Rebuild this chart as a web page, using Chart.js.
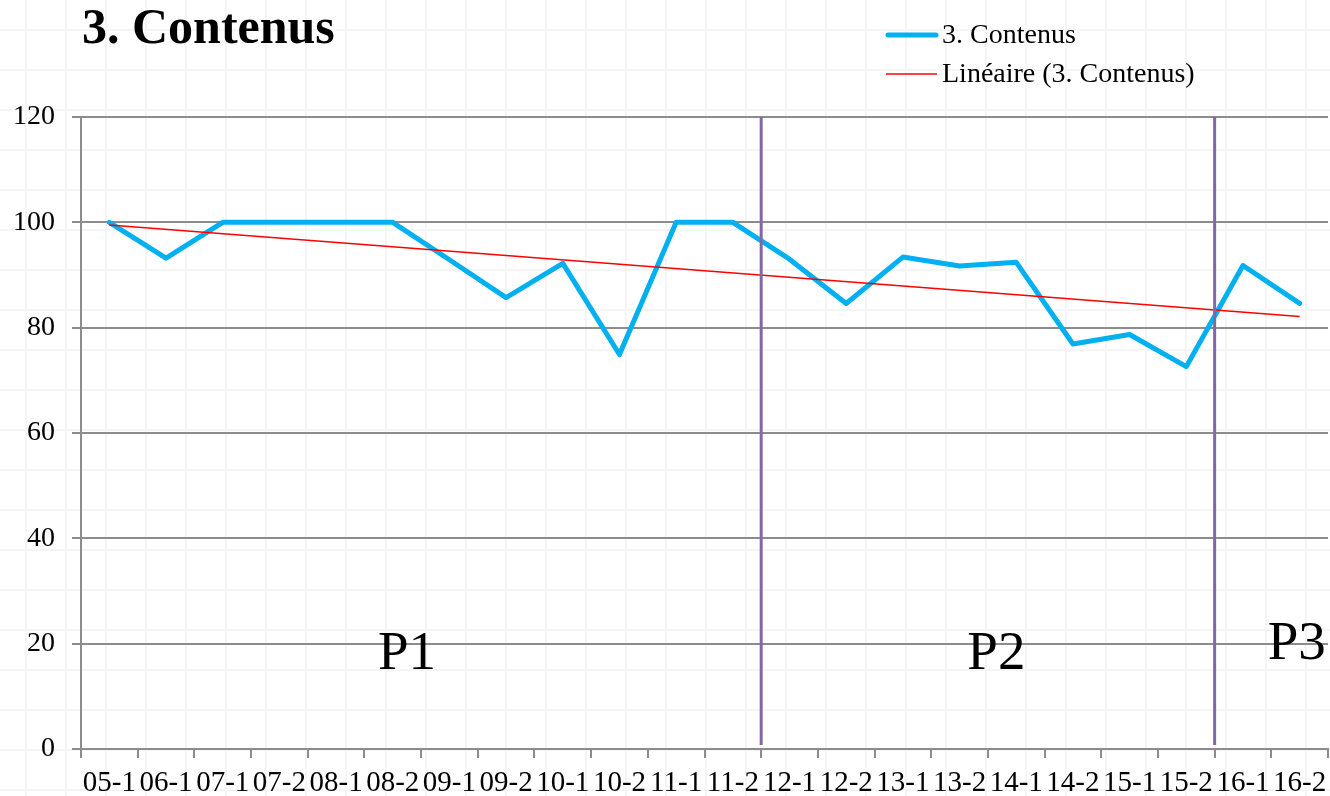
<!DOCTYPE html>
<html>
<head>
<meta charset="utf-8">
<script src="https://cdn.jsdelivr.net/npm/chart.js@4/dist/chart.umd.min.js"></script>
<style>
  html, body { margin: 0; padding: 0; }
  body {
    width: 1330px; height: 796px; overflow: hidden;
    background-color: #fff;
    background-image:
      linear-gradient(to right, #f5f5f5 2px, transparent 2px),
      linear-gradient(to bottom, #f5f5f5 2px, transparent 2px);
    background-size: 40px 40px;
    background-position: 25px 29px;
  }
  #wrap { position: absolute; left: 0; top: 0; width: 1330px; height: 796px; }
</style>
</head>
<body>
<div id="wrap"><canvas id="chart" width="1330" height="796"></canvas></div>
<script>
const categories = ['05-1', '06-1', '07-1', '07-2', '08-1', '08-2', '09-1', '09-2', '10-1', '10-2', '11-1',
  '11-2', '12-1', '12-2', '13-1', '13-2', '14-1', '14-2', '15-1', '15-2', '16-1', '16-2'];
const contenus = [100, 93.2, 100, 100, 100, 100, 92.9, 85.7, 92.2, 74.9, 100,
  100, 93.0, 84.6, 93.4, 91.7, 92.4, 76.9, 78.7, 72.6, 91.8, 84.6];
// trend line end points as read on the picture
const trendStart = 99.5;
const trendEnd = 82.1;
const yTicks = [0, 20, 40, 60, 80, 100, 120];
// period separators (category position) and labels
const periodBreaks = [11.5, 19.5];
const periodLabels = ['P1', 'P2', 'P3'];
const periodLabelX = [5.25, 15.65, 20.95];
const periodLabelY = [18, 18, 19.8];

const title = '3. Contenus';
const seriesName = '3. Contenus';
const trendName = 'Linéaire (3. Contenus)';

const trend = categories.map((c, i) => i === 0 ? trendStart : (i === categories.length - 1 ? trendEnd : null));

const FONT = '"Liberation Serif", "DejaVu Serif", serif';
const AXIS = '#8c8c8c';

const decor = {
  id: 'decor',
  afterDatasetsDraw(chart) {
    const { ctx, chartArea, scales } = chart;
    ctx.save();
    // period separators
    ctx.strokeStyle = '#8068a6';
    ctx.lineWidth = 3;
    periodBreaks.forEach(p => {
      const x = scales.x.getPixelForValue(p);
      ctx.beginPath();
      ctx.moveTo(x, chartArea.top);
      ctx.lineTo(x, chartArea.bottom - 4);
      ctx.stroke();
    });
    // period labels
    ctx.fillStyle = '#000';
    ctx.font = '55px ' + FONT;
    ctx.textAlign = 'center';
    ctx.textBaseline = 'middle';
    periodLabels.forEach((t, i) => {
      ctx.fillText(t, scales.x.getPixelForValue(periodLabelX[i]), scales.y.getPixelForValue(periodLabelY[i]));
    });
    ctx.restore();
  },
  afterDraw(chart) {
    const { ctx } = chart;
    ctx.save();
    // title
    ctx.fillStyle = '#000';
    ctx.font = 'bold 50px ' + FONT;
    ctx.textAlign = 'left';
    ctx.textBaseline = 'middle';
    ctx.fillText(title, 82, 30);
    // legend
    ctx.lineCap = 'round';
    ctx.strokeStyle = '#00b0f0';
    ctx.lineWidth = 5;
    ctx.beginPath(); ctx.moveTo(888, 35); ctx.lineTo(936, 35); ctx.stroke();
    ctx.strokeStyle = '#ff0000';
    ctx.lineWidth = 1.5;
    ctx.lineCap = 'butt';
    ctx.beginPath(); ctx.moveTo(886, 74); ctx.lineTo(937, 74); ctx.stroke();
    ctx.font = '28px ' + FONT;
    ctx.fillText(seriesName, 942, 36);
    ctx.fillText(trendName, 942, 75);
    ctx.restore();
  }
};

new Chart(document.getElementById('chart'), {
  type: 'line',
  data: {
    labels: categories,
    datasets: [
      {
        label: trendName,
        data: trend,
        borderColor: '#ff0000',
        borderWidth: 1.5,
        pointRadius: 0,
        spanGaps: true,
        order: 0
      },
      {
        label: seriesName,
        data: contenus,
        borderColor: '#00b0f0',
        borderWidth: 5,
        borderJoinStyle: 'round',
        borderCapStyle: 'round',
        pointRadius: 0,
        tension: 0,
        order: 1
      }
    ]
  },
  options: {
    responsive: false,
    animation: false,
    layout: { padding: { top: 117, right: 2, left: 0, bottom: 0 } },
    plugins: {
      legend: { display: false },
      title: { display: false },
      tooltip: { enabled: false }
    },
    scales: {
      x: {
        type: 'category',
        offset: true,
        afterFit(scale) {
          scale.height = 47;
          scale.paddingLeft = 0;
          scale.paddingRight = 0;
        },
        grid: {
          offset: true,
          drawOnChartArea: false,
          drawTicks: true,
          tickLength: 9,
          color: AXIS,
          lineWidth: 2
        },
        border: { color: AXIS, width: 2 },
        ticks: {
          autoSkip: false,
          maxRotation: 0,
          minRotation: 0,
          padding: 8,
          color: '#000',
          font: { family: FONT, size: 29 }
        }
      },
      y: {
        min: 0,
        max: 120,
        afterFit(scale) { scale.width = 81; },
        afterBuildTicks(scale) { scale.ticks = yTicks.map(v => ({ value: v })); },
        grid: {
          color: AXIS,
          lineWidth: 2,
          tickLength: 9
        },
        border: { color: AXIS, width: 2 },
        ticks: {
          padding: 17,
          color: '#000',
          font: { family: FONT, size: 28 }
        }
      }
    }
  },
  plugins: [decor]
});
</script>
</body>
</html>
